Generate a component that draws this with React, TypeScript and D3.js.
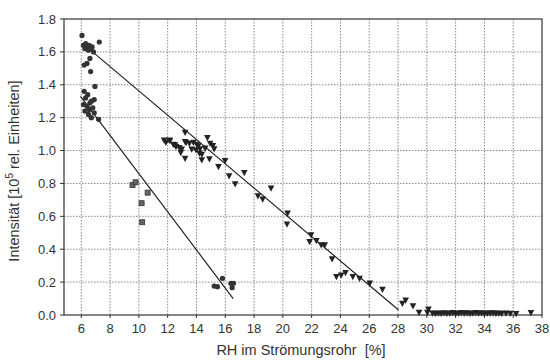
import React from "react";
import * as d3 from "d3";

const xTicks = [6, 8, 10, 12, 14, 16, 18, 20, 22, 24, 26, 28, 30, 32, 34, 36, 38];
const yTicks = [0, 0.2, 0.4, 0.6, 0.8, 1.0, 1.2, 1.4, 1.6, 1.8];

// filled circles
const circlePts: [number, number][] = [
  [6.05, 1.7], [6.15, 1.64], [6.25, 1.62], [6.3, 1.65], [6.4, 1.63], [6.5, 1.61], [6.55, 1.64],
  [6.65, 1.62], [6.75, 1.63], [6.85, 1.6], [7.25, 1.66], [6.6, 1.56], [6.2, 1.52], [6.4, 1.53],
  [6.65, 1.48], [6.95, 1.39],
  [6.2, 1.36], [6.45, 1.34], [6.3, 1.32], [6.7, 1.3], [6.9, 1.31], [6.15, 1.28], [6.4, 1.27],
  [6.6, 1.29], [6.8, 1.26], [6.25, 1.24], [6.55, 1.25], [6.9, 1.23], [6.7, 1.2], [7.2, 1.19], [6.5, 1.22],
  [15.23, 0.176], [15.46, 0.172], [15.81, 0.223], [16.39, 0.193], [16.57, 0.193], [16.48, 0.166],
];

// squares
const squarePts: [number, number][] = [
  [9.56, 0.79], [9.77, 0.807], [10.61, 0.744], [10.19, 0.68], [10.23, 0.564],
];

// down triangles
const trianglePts: [number, number][] = [
  [11.75, 1.064], [11.88, 1.05], [12.11, 1.064], [12.16, 1.06], [12.39, 1.038], [12.51, 1.034],
  [12.58, 1.024], [12.81, 1.018], [12.91, 0.987], [12.98, 1.008], [13.21, 1.111], [13.21, 1.054],
  [13.28, 1.048], [13.51, 1.044], [13.67, 1.008], [13.79, 1.05], [14.02, 1.038], [13.97, 1.004],
  [14.13, 1.028], [14.25, 1.01], [14.2, 0.984], [14.37, 0.977], [14.6, 1.014], [14.76, 1.078],
  [14.95, 1.044], [15.14, 1.03], [15.23, 1.01], [13.21, 0.953], [14.37, 0.943], [14.9, 0.949],
  [15.99, 0.939], [15.53, 0.902], [16.27, 0.846], [17.32, 0.866], [16.69, 0.797], [19.18, 0.771],
  [18.27, 0.724], [18.6, 0.704], [20.33, 0.619], [20.29, 0.552], [21.96, 0.487], [21.86, 0.446],
  [22.33, 0.452], [22.66, 0.426], [22.91, 0.426], [23.42, 0.341], [23.72, 0.233], [24.05, 0.243],
  [24.35, 0.257], [24.86, 0.233], [25.33, 0.223], [26.04, 0.193], [26.92, 0.156], [28.3, 0.071],
  [28.53, 0.09], [29.04, 0.055], [29.46, 0.016], [30.11, 0.035], [30.04, 0.016],
  [30.4, 0.012], [30.6, 0.01], [30.8, 0.012], [31.0, 0.01], [31.2, 0.013], [31.4, 0.01],
  [31.6, 0.012], [31.8, 0.014], [32.0, 0.01], [32.2, 0.012], [32.4, 0.014], [32.6, 0.011],
  [32.8, 0.013], [33.0, 0.01], [33.2, 0.012], [33.4, 0.014], [33.6, 0.011], [33.8, 0.013],
  [34.0, 0.01], [34.2, 0.012], [34.4, 0.011], [34.6, 0.013], [34.8, 0.01], [35.0, 0.012],
  [35.2, 0.01], [35.5, 0.011], [35.8, 0.01], [36.2, 0.009], [37.23, 0.014],
];

// regression lines
const line1: [number, number][] = [[6.52, 1.62], [28.04, 0.03]];
const line2: [number, number][] = [[5.95, 1.33], [16.55, 0.1]];

const W = 550;
const H = 361;
const left = 64;
const right = 542;
const top = 19;
const bottom = 315;

export default function App() {
  const x = d3.scaleLinear().domain([4.8, 38]).range([left, right]);
  const y = d3.scaleLinear().domain([0, 1.8]).range([bottom, top]);
  const line = d3.line<[number, number]>().x((d) => x(d[0])).y((d) => y(d[1]));
  const font = "'Liberation Sans', Arial, Helvetica, sans-serif";
  const tri = (cx: number, cy: number) => {
    const s = 3.3;
    return `M${cx - s},${cy - s * 0.8} L${cx + s},${cy - s * 0.8} L${cx},${cy + s * 1.1} Z`;
  };
  return (
    <svg width={W} height={H} style={{ position: "absolute", left: 0, top: 0, background: "#fff" }}>
      <rect x={0} y={0} width={W} height={H} fill="#fff" />
      {xTicks.filter((t) => t < 38).map((t) => (
        <line key={"gx" + t} x1={x(t)} x2={x(t)} y1={top} y2={bottom} stroke="#888" strokeWidth={1} strokeDasharray="1.5,1.5" />
      ))}
      {yTicks.filter((t) => t > 0 && t < 1.8).map((t) => (
        <line key={"gy" + t} x1={left} x2={right} y1={y(t)} y2={y(t)} stroke="#888" strokeWidth={1} strokeDasharray="1.5,1.5" />
      ))}
      <rect x={left} y={top} width={right - left} height={bottom - top} fill="none" stroke="#333" strokeWidth={1.2} />
      {yTicks.map((t) => (
        <g key={"yt" + t}>
          <line x1={left - 4} x2={left} y1={y(t)} y2={y(t)} stroke="#333" />
          <text x={left - 8} y={y(t)} dy="0.35em" textAnchor="end" fontFamily={font} fontSize={13} fill="#333">
            {d3.format(".1f")(t)}
          </text>
        </g>
      ))}
      {xTicks.map((t) => (
        <g key={"xt" + t}>
          <line x1={x(t)} x2={x(t)} y1={bottom} y2={bottom + 3} stroke="#333" />
          <text x={x(t)} y={bottom + 18} textAnchor="middle" fontFamily={font} fontSize={13} fill="#333">
            {t}
          </text>
        </g>
      ))}
      <text x={301} y={355} textAnchor="middle" fontFamily={font} fontSize={14.5} fill="#333">
        RH im Strömungsrohr&#160;&#160;[%]
      </text>
      <text transform={`translate(19,${(top + bottom) / 2 + 4}) rotate(-90)`} textAnchor="middle" fontFamily={font} fontSize={14.5} fill="#333">
        Intensität [10<tspan dy={-6} fontSize={10}>5</tspan><tspan dy={6}> rel. Einheiten]</tspan>
      </text>
      <path d={line(line1) || ""} stroke="#222" strokeWidth={1.2} fill="none" />
      <path d={line(line2) || ""} stroke="#222" strokeWidth={1.2} fill="none" />
      {circlePts.map((d, i) => (
        <circle key={"c" + i} cx={x(d[0])} cy={y(d[1])} r={2.6} fill="#333" />
      ))}
      {squarePts.map((d, i) => (
        <rect key={"s" + i} x={x(d[0]) - 2.5} y={y(d[1]) - 2.5} width={5} height={5} fill="#666" stroke="#333" strokeWidth={0.8} />
      ))}
      {trianglePts.map((d, i) => (
        <path key={"t" + i} d={tri(x(d[0]), y(d[1]))} fill="#222" />
      ))}
    </svg>
  );
}
